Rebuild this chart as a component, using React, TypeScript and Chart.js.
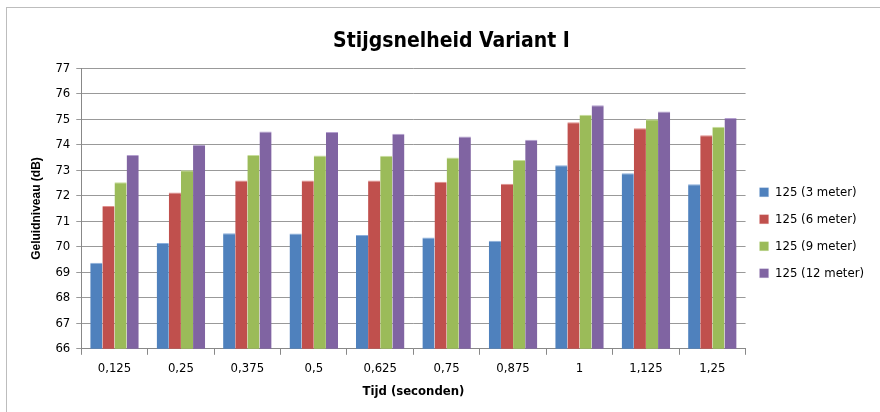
import React, { useEffect, useRef } from "react";
import { Chart, registerables } from "chart.js";

Chart.register(...registerables);

const categories = ["0,125", "0,25", "0,375", "0,5", "0,625", "0,75", "0,875", "1", "1,125", "1,25"];
const seriesNames = ["125 (3 meter)", "125 (6 meter)", "125 (9 meter)", "125 (12 meter)"];
const s3m = [69.37, 70.15, 70.53, 70.52, 70.46, 70.36, 70.24, 73.2, 72.88, 72.45];
const s6m = [71.6, 72.13, 72.6, 72.6, 72.6, 72.55, 72.47, 74.88, 74.65, 74.37];
const s9m = [72.53, 73.0, 73.6, 73.58, 73.57, 73.5, 73.4, 75.18, 75.0, 74.7];
const s12m = [73.6, 74.0, 74.52, 74.5, 74.43, 74.32, 74.2, 75.55, 75.3, 75.05];
const colors = ["#4F81BD", "#C0504D", "#9BBB59", "#8064A2"];
const borders = ["#8AAEDC", "#E08E8C", "#C8DE9C", "#B4A0CF"];

const FONT = "'Liberation Sans Narrow', 'DejaVu Sans Condensed', 'Liberation Sans', sans-serif";

export default function App() {
  const ref = useRef<HTMLCanvasElement | null>(null);
  useEffect(() => {
    if (!ref.current) return;
    const values = [s3m, s6m, s9m, s12m];
    const chart = new Chart(ref.current, {
      type: "bar",
      data: {
        labels: categories,
        datasets: values.map((v, i) => ({
          label: seriesNames[i],
          data: v,
          backgroundColor: colors[i],
          borderColor: borders[i],
          borderWidth: { top: 1, left: 0, right: 0, bottom: 0 },
          categoryPercentage: 0.73,
          barPercentage: 1,
        })),
      },
      options: {
        animation: false,
        responsive: false,
        maintainAspectRatio: false,
        layout: { padding: { left: 29, right: 6, top: 10, bottom: 13 } },
        plugins: {
          title: {
            display: true,
            text: "Stijgsnelheid Variant I",
            color: "#000",
            font: { family: FONT, size: 21, weight: "bold" },
            padding: { top: 19, bottom: 14 },
          },
          legend: {
            position: "right",
            align: "center",
            title: { display: true, text: " ", font: { size: 2 }, padding: { top: 54, bottom: 0 } },
            labels: {
              color: "#000",
              boxWidth: 9,
              boxHeight: 9,
              padding: 14,
              font: { family: FONT, size: 13 },
            },
          },
          tooltip: { enabled: false },
        },
        scales: {
          x: {
            grid: {
              display: true,
              drawOnChartArea: false,
              drawTicks: true,
              tickLength: 6,
              offset: true,
              color: "#888",
            },
            border: { display: true, color: "#888" },
            ticks: { color: "#000", font: { family: FONT, size: 13 }, padding: 6 },
            title: {
              display: true,
              text: "Tijd (seconden)",
              color: "#000",
              font: { family: FONT, size: 13, weight: "bold" },
              padding: { top: 1, bottom: 0 },
            },
          },
          y: {
            min: 66,
            max: 77,
            ticks: { stepSize: 1, color: "#000", font: { family: FONT, size: 13 }, padding: 6 },
            grid: { color: "#999", lineWidth: 1, tickLength: 5, drawTicks: true },
            border: { display: true, color: "#888" },
            title: {
              display: true,
              text: "Geluidniveau (dB)",
              color: "#000",
              font: { family: "'Liberation Sans', sans-serif", size: 12, weight: "bold" },
              padding: { top: 0, bottom: 6 },
            },
          },
        },
      },
    });
    return () => chart.destroy();
  }, []);
  return (
    <div style={{ position: "absolute", left: 0, top: 0, width: 880, height: 412, overflow: "hidden", background: "#fff" }}>
      <div style={{ position: "absolute", left: 6, top: 7, width: 900, height: 420, border: "1px solid #bdbdbd" }} />
      <canvas ref={ref} width={880} height={412} style={{ position: "absolute", left: 0, top: 0 }} />
    </div>
  );
}
